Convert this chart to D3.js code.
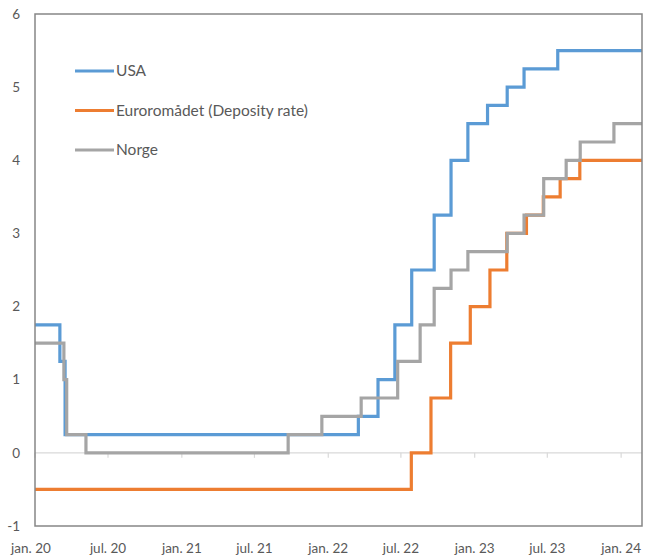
<!DOCTYPE html>
<html><head><meta charset="utf-8">
<script src="https://cdn.jsdelivr.net/npm/d3@7"></script>
<style>body{margin:0;background:#fff}svg{display:block}text{font-family:Lato,"Open Sans",sans-serif;fill:#595959}</style>
</head><body><svg id="c" width="647" height="557"></svg>
<script>
// Step-change dates and policy rates (value holds from date onward)
const usaDates = ["2020-01-01","2020-03-03","2020-03-16","2022-03-17","2022-05-05","2022-06-16","2022-07-28","2022-09-22","2022-11-03","2022-12-15","2023-02-02","2023-03-23","2023-05-04","2023-07-27"];
const usaRates = [1.75,1.25,0.25,0.5,1.0,1.75,2.5,3.25,4.0,4.5,4.75,5.0,5.25,5.5];
const euroDates = ["2020-01-01","2022-07-27","2022-09-14","2022-11-02","2022-12-21","2023-02-08","2023-03-22","2023-05-10","2023-06-21","2023-08-02","2023-09-20"];
const euroRates = [-0.5,0,0.75,1.5,2.0,2.5,3.0,3.25,3.5,3.75,4.0];
const norDates = ["2020-01-01","2020-03-13","2020-03-20","2020-05-07","2021-09-23","2021-12-16","2022-03-24","2022-06-23","2022-08-18","2022-09-22","2022-11-03","2022-12-15","2023-03-23","2023-05-04","2023-06-22","2023-08-17","2023-09-21","2023-12-14"];
const norRates = [1.5,1.0,0.25,0,0.25,0.5,0.75,1.25,1.75,2.25,2.5,2.75,3.0,3.25,3.75,4.0,4.25,4.5];
const endDate = "2024-02-22";
const seriesNames = ["USA","Euroromådet (Deposity rate)","Norge"];
const seriesColors = ["#5B9BD5","#ED7D31","#A5A5A5"];
const yTicks = [-1,0,1,2,3,4,5,6];
const xTickDates = ["2020-01-01","2020-07-01","2021-01-01","2021-07-01","2022-01-01","2022-07-01","2023-01-01","2023-07-01","2024-01-01"];
const xTickLabels = ["jan. 20","jul. 20","jan. 21","jul. 21","jan. 22","jul. 22","jan. 23","jul. 23","jan. 24"];

const parse = d3.utcParse("%Y-%m-%d");
const svg = d3.select("#c");
const L=35, R=642, T=14, B=526;
const x = d3.scaleUtc().domain([parse("2020-01-01"), parse(endDate)]).range([L,R]);
const y = d3.scaleLinear().domain([-1,6]).range([B,T]);

// zero axis line
svg.append("line").attr("x1",L).attr("x2",R).attr("y1",y(0)).attr("y2",y(0)).attr("stroke","#d9d9d9").attr("stroke-width",1.2);
svg.append("g").selectAll("line").data(xTickDates).join("line")
  .attr("x1",d=>x(parse(d))).attr("x2",d=>x(parse(d))).attr("y1",y(0)).attr("y2",y(0)+5)
  .attr("stroke","#d9d9d9").attr("stroke-width",1.2);

function mk(dates, rates){
  const pts = dates.map((d,i)=>({d:parse(d), v:rates[i]}));
  pts.push({d:parse(endDate), v:rates[rates.length-1]});
  return pts;
}
const data = [mk(usaDates,usaRates), mk(euroDates,euroRates), mk(norDates,norRates)];
const line = d3.line().x(p=>x(p.d)).y(p=>y(p.v)).curve(d3.curveStepAfter);
svg.append("g").selectAll("path").data(data).join("path")
  .attr("d",line).attr("fill","none").attr("stroke",(d,i)=>seriesColors[i]).attr("stroke-width",3.2).attr("stroke-linejoin","miter");

// border
svg.append("rect").attr("x",L).attr("y",T).attr("width",R-L).attr("height",B-T).attr("fill","none").attr("stroke","#868686").attr("stroke-width",1.5);

// y labels
svg.append("g").selectAll("text").data(yTicks).join("text")
  .attr("x",20).attr("y",d=>y(d)).attr("dy","0.35em").attr("text-anchor","end").attr("font-size",13.5).text(d=>d);
// x labels
svg.append("g").selectAll("text").data(xTickDates).join("text")
  .attr("x",(d,i)=>x(parse(d)) - (i===0?4:0)).attr("y",548).attr("dy","0.35em").attr("text-anchor","middle").attr("font-size",13.5).text((d,i)=>xTickLabels[i]);

// legend
const lg = svg.append("g").selectAll("g").data(seriesNames).join("g").attr("transform",(d,i)=>`translate(75,${71+i*39.5})`);
lg.append("line").attr("x1",0).attr("x2",39).attr("stroke",(d,i)=>seriesColors[i]).attr("stroke-width",3.2);
lg.append("text").attr("x",41).attr("dy","0.35em").attr("font-size",15.5).text(d=>d);
</script></body></html>
